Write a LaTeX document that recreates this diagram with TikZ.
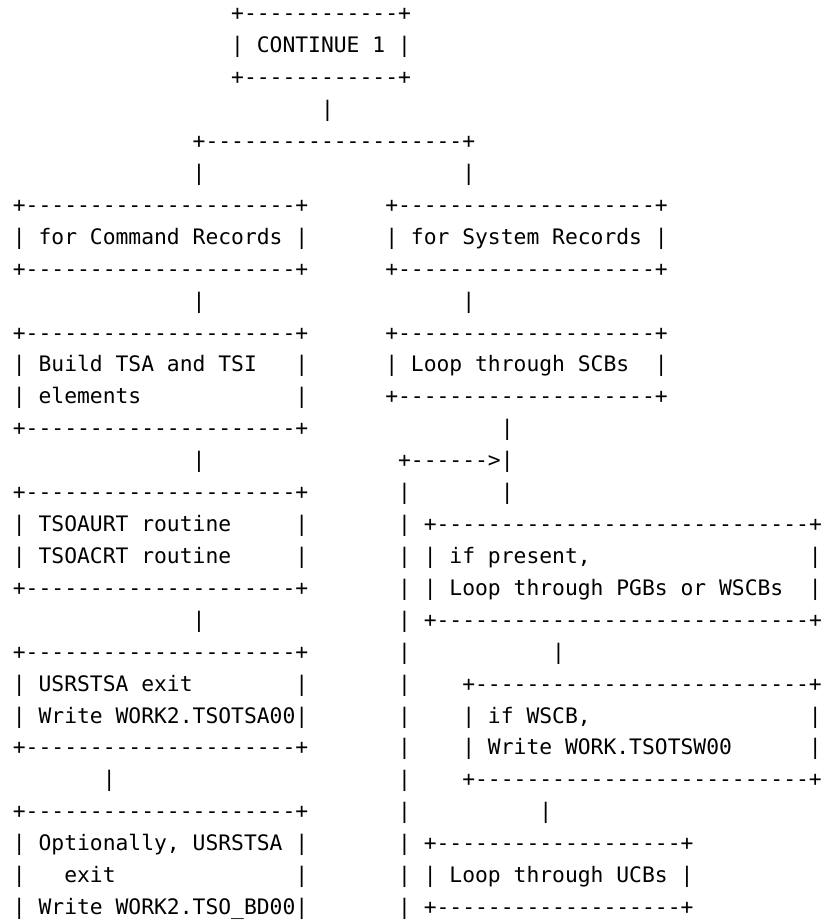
\documentclass[tikz,border=0pt]{standalone}
\usepackage{fontspec}
\setmonofont{DejaVu Sans Mono}
\ExplSyntaxOn
\NewDocumentCommand\hb{m}{+\prg_replicate:nn{#1}{-}+}
\ExplSyntaxOff
\tikzset{asc/.style={anchor=base west,inner sep=0pt,outer sep=0pt,
  font=\ttfamily\fontsize{21.33}{26}\selectfont\frenchspacing}}
\newcommand\A[3]{\node[asc] (r#1c#2) at ({12.9+12.84*#2},{-(20.8+31.92*#1)}) {#3};}
\begin{document}
\begin{tikzpicture}[x=1pt,y=1pt]
\useasboundingbox (0,0) rectangle (824,-922);
\A{0}{17}{\hb{12}}
\A{1}{17}{| CONTINUE 1 |}
\A{2}{17}{\hb{12}}
\A{3}{24}{|}
\A{4}{14}{\hb{20}}
\A{5}{14}{|}\A{5}{35}{|}
\A{6}{0}{\hb{21}}\A{6}{29}{\hb{20}}
\A{7}{0}{| for Command Records |}\A{7}{29}{| for System Records |}
\A{8}{0}{\hb{21}}\A{8}{29}{\hb{20}}
\A{9}{14}{|}\A{9}{35}{|}
\A{10}{0}{\hb{21}}\A{10}{29}{\hb{20}}
\A{11}{0}{| Build TSA and TSI}\A{11}{22}{|}\A{11}{29}{| Loop through SCBs}\A{11}{50}{|}
\A{12}{0}{| elements}\A{12}{22}{|}\A{12}{29}{\hb{20}}
\A{13}{0}{\hb{21}}\A{13}{38}{|}
\A{14}{14}{|}\A{14}{30}{+------>|}
\A{15}{0}{\hb{21}}\A{15}{30}{|}\A{15}{38}{|}
\A{16}{0}{| TSOAURT routine}\A{16}{22}{|}\A{16}{30}{|}\A{16}{32}{\hb{29}}
\A{17}{0}{| TSOACRT routine}\A{17}{22}{|}\A{17}{30}{|}\A{17}{32}{| if present,}\A{17}{62}{|}
\A{18}{0}{\hb{21}}\A{18}{30}{|}\A{18}{32}{| Loop through PGBs or WSCBs}\A{18}{62}{|}
\A{19}{14}{|}\A{19}{30}{|}\A{19}{32}{\hb{29}}
\A{20}{0}{\hb{21}}\A{20}{30}{|}\A{20}{42}{|}
\A{21}{0}{| USRSTSA exit}\A{21}{22}{|}\A{21}{30}{|}\A{21}{35}{\hb{26}}
\A{22}{0}{| Write WORK2.TSOTSA00|}\A{22}{30}{|}\A{22}{35}{| if WSCB,}\A{22}{62}{|}
\A{23}{0}{\hb{21}}\A{23}{30}{|}\A{23}{35}{| Write WORK.TSOTSW00}\A{23}{62}{|}
\A{24}{7}{|}\A{24}{30}{|}\A{24}{35}{\hb{26}}
\A{25}{0}{\hb{21}}\A{25}{30}{|}\A{25}{41}{|}
\A{26}{0}{| Optionally, USRSTSA |}\A{26}{30}{|}\A{26}{32}{\hb{19}}
\A{27}{0}{|}\A{27}{4}{exit}\A{27}{22}{|}\A{27}{30}{|}\A{27}{32}{| Loop through UCBs |}
\A{28}{0}{| Write WORK2.TSO\_BD00|}\A{28}{30}{|}\A{28}{32}{\hb{19}}
\end{tikzpicture}
\end{document}
